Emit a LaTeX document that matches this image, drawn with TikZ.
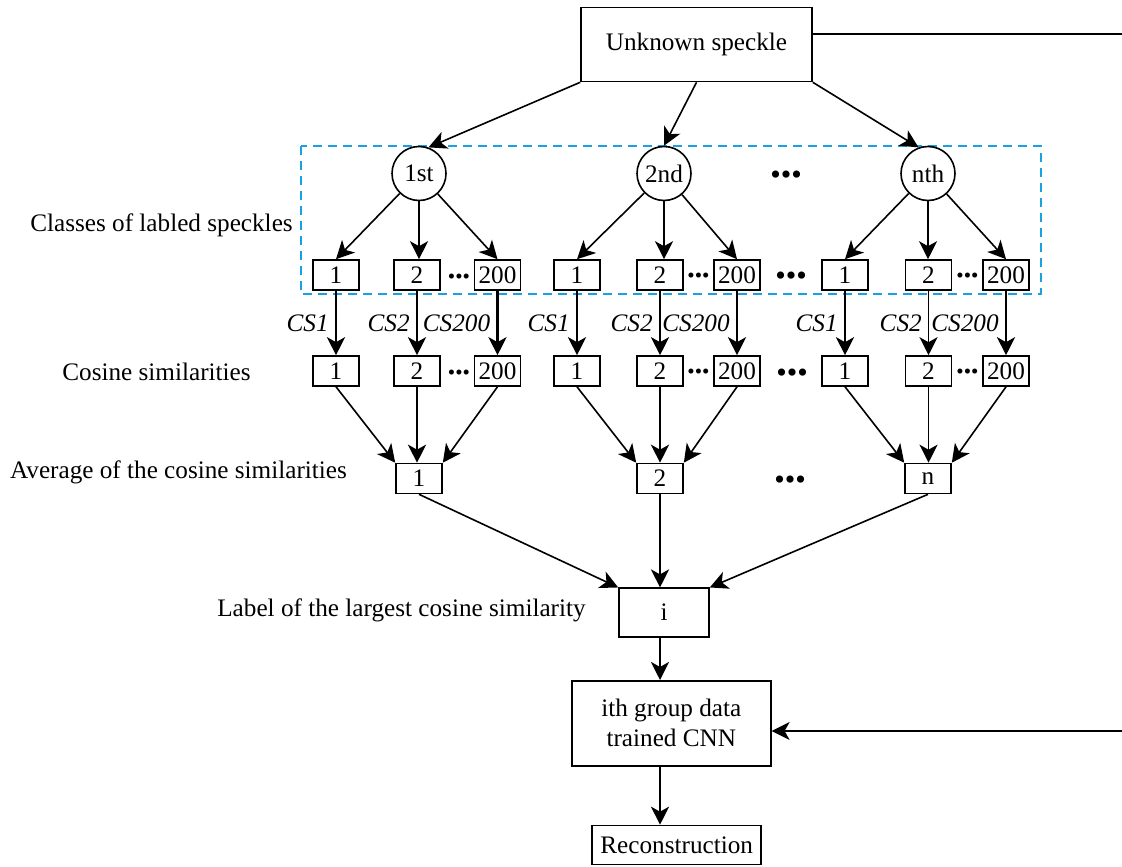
\documentclass[tikz,border=0pt]{standalone}
\usepackage{fontspec}
\setmainfont{Liberation Serif}
\usepackage{tikz}
\usetikzlibrary{arrows.meta,calc,positioning}
\definecolor{dashblue}{RGB}{27,161,226}

\begin{document}
\begin{tikzpicture}[x=0.5pt,y=-0.5pt,
	every node/.style={font=\fontsize{12.6}{15}\selectfont},
	box/.style={draw,line width=0.8pt,minimum width=23pt,minimum height=15pt,inner sep=0pt},
	cls/.style={draw,circle,line width=0.8pt,minimum size=27pt,inner sep=0pt},
	arr/.style={line width=0.8pt,-{Stealth[length=9pt,width=9pt,inset=2.5pt]}},
	tarr/.style={line width=1.4pt,-{Stealth[length=9pt,width=9pt,inset=2.5pt]}},
	cs/.style={left,inner sep=3pt,font=\fontsize{12.6}{15}\selectfont\itshape},
	bdots/.style={inner sep=0pt,font=\fontsize{15}{15}\selectfont},
	sdots/.style={inner sep=0pt,font=\fontsize{10.5}{10}\selectfont}]
	\useasboundingbox (0,0) rectangle (1122,866);
	
	\draw[dashblue, line width=1pt, dash pattern=on 4.5pt off 3pt] (301,146) rectangle (1041,294);
	
	\node[draw,line width=0.8pt,minimum width=115.5pt,minimum height=37pt] (unk) at (696.5,44.5) {Unknown speckle};
	\node[cls] (c1) at (419,173.5) {1st};
	\node[cls] (c2) at (664,173.5) {2nd};
	\node[cls] (c3) at (928,173.5) {nth};
	
	\node[box] (a11) at (336,275) {1};
	\node[box] (a12) at (417,275) {2};
	\node[box] (a13) at (497.5,275) {200};
	\node[box] (a21) at (577,275) {1};
	\node[box] (a22) at (660,275) {2};
	\node[box] (a23) at (737,275) {200};
	\node[box] (a31) at (845,275) {1};
	\node[box] (a32) at (928.5,275) {2};
	\node[box] (a33) at (1006,275) {200};
	
	\node[box] (b11) at (336,371) {1};
	\node[box] (b12) at (417,371) {2};
	\node[box] (b13) at (497.5,371) {200};
	\node[box] (b21) at (577,371) {1};
	\node[box] (b22) at (660,371) {2};
	\node[box] (b23) at (737,371) {200};
	\node[box] (b31) at (845,371) {1};
	\node[box] (b32) at (928.5,371) {2};
	\node[box] (b33) at (1006,371) {200};
	
	\node[box] (m1) at (419,478.5) {1};
	\node[box] (m2) at (660,478.5) {2};
	\node[box] (m3) at (928,478.5) {n};
	
	\node[draw,line width=0.8pt,minimum width=45pt,minimum height=24.25pt] (i) at (664,612.5) {i};
	\node[draw,line width=0.8pt,minimum width=99.5pt,minimum height=42.5pt,align=center] (cnn) at (671.3,723.3) {ith group data\\trained CNN};
	\node[draw,line width=0.8pt,minimum width=84.5pt,minimum height=19.5pt,inner sep=0pt] (rec) at (676.7,845) {Reconstruction};
	
	\node[anchor=base] (l1) at (161.5,231.5) {Classes of labled speckles};
	\node[anchor=base] (l2) at (156.5,380) {Cosine similarities};
	\node[anchor=base] (l3) at (178.5,478) {Average of the cosine similarities};
	\node[anchor=base] (l4) at (401.5,616.7) {Label of the largest cosine similarity};
	
	\node[bdots] (d1) at (786,178) {\textbullet\textbullet\textbullet};
	\node[bdots] (d2) at (791,279) {\textbullet\textbullet\textbullet};
	\node[bdots] (d3) at (792,376) {\textbullet\textbullet\textbullet};
	\node[bdots] (d4) at (790,483) {\textbullet\textbullet\textbullet};
	\node[sdots] (s11) at (459,279) {\textbullet\textbullet\textbullet};
	\node[sdots] (s12) at (459,375) {\textbullet\textbullet\textbullet};
	\node[sdots] (s21) at (698.5,278) {\textbullet\textbullet\textbullet};
	\node[sdots] (s22) at (698.5,374) {\textbullet\textbullet\textbullet};
	\node[sdots] (s31) at (967.5,278) {\textbullet\textbullet\textbullet};
	\node[sdots] (s32) at (967.5,374) {\textbullet\textbullet\textbullet};
	
	\coordinate (f1) at (1124,34);
	\coordinate (f2) at (1124,731);
	
	\draw[arr] (unk.south west) -- (c1.70);
	\draw[arr] (unk.south) -- (c2.north);
	\draw[arr] (unk.south east) -- (c3.110);
	
	\draw[arr] (c1) -- (a11.north);
	\draw[arr] (c1.south) -- (c1.south |- a12.north);
	\draw[arr] (c1) -- (a13.north);
	\draw[arr] (c2) -- (a21.north);
	\draw[arr] (c2.south) -- (c2.south |- a22.north);
	\draw[arr] (c2) -- (a23.north);
	\draw[arr] (c3) -- (a31.north);
	\draw[arr] (c3.south) -- (c3.south |- a32.north);
	\draw[arr] (c3) -- (a33.north);
	
	\draw[tarr] (a11) -- node[cs] {CS1} (b11);
	\draw[tarr] (a12) -- node[cs] {CS2} (b12);
	\draw[tarr] (a13) -- node[cs] {CS200} (b13);
	\draw[tarr] (a21) -- node[cs] {CS1} (b21);
	\draw[tarr] (a22) -- node[cs] {CS2} (b22);
	\draw[tarr] (a23) -- node[cs] {CS200} (b23);
	\draw[tarr] (a31) -- node[cs] {CS1} (b31);
	\draw[arr] (a32) -- node[cs] {CS2} (b32);
	\draw[tarr] (a33) -- node[cs] {CS200} (b33);
	
	\draw[arr] (b11.south) -- (m1.north west);
	\draw[tarr] (b12.south) -- (b12.south |- m1.north);
	\draw[arr] (b13.south) -- (m1.north east);
	\draw[arr] (b21.south) -- (m2.north west);
	\draw[tarr] (b22.south) -- (b22.south |- m2.north);
	\draw[arr] (b23.south) -- (m2.north east);
	\draw[arr] (b31.south) -- (m3.north west);
	\draw[arr] (b32.south) -- (b32.south |- m3.north);
	\draw[arr] (b33.south) -- (m3.north east);
	
	\draw[arr] (m1.south) -- (i.north west);
	\draw[tarr] (m2.south) -- (m2.south |- i.north);
	\draw[arr] (m3.south) -- (i.north east);
	\draw[tarr] (i.south -| m2) -- (m2 |- cnn.north);
	\draw[arr,line width=1pt] (cnn.south -| m2) -- (m2 |- rec.north);
	\draw[arr] (unk.east |- f1) -- (f1) -- (f2) -- (cnn.east |- f2);
\end{tikzpicture}
\end{document}
